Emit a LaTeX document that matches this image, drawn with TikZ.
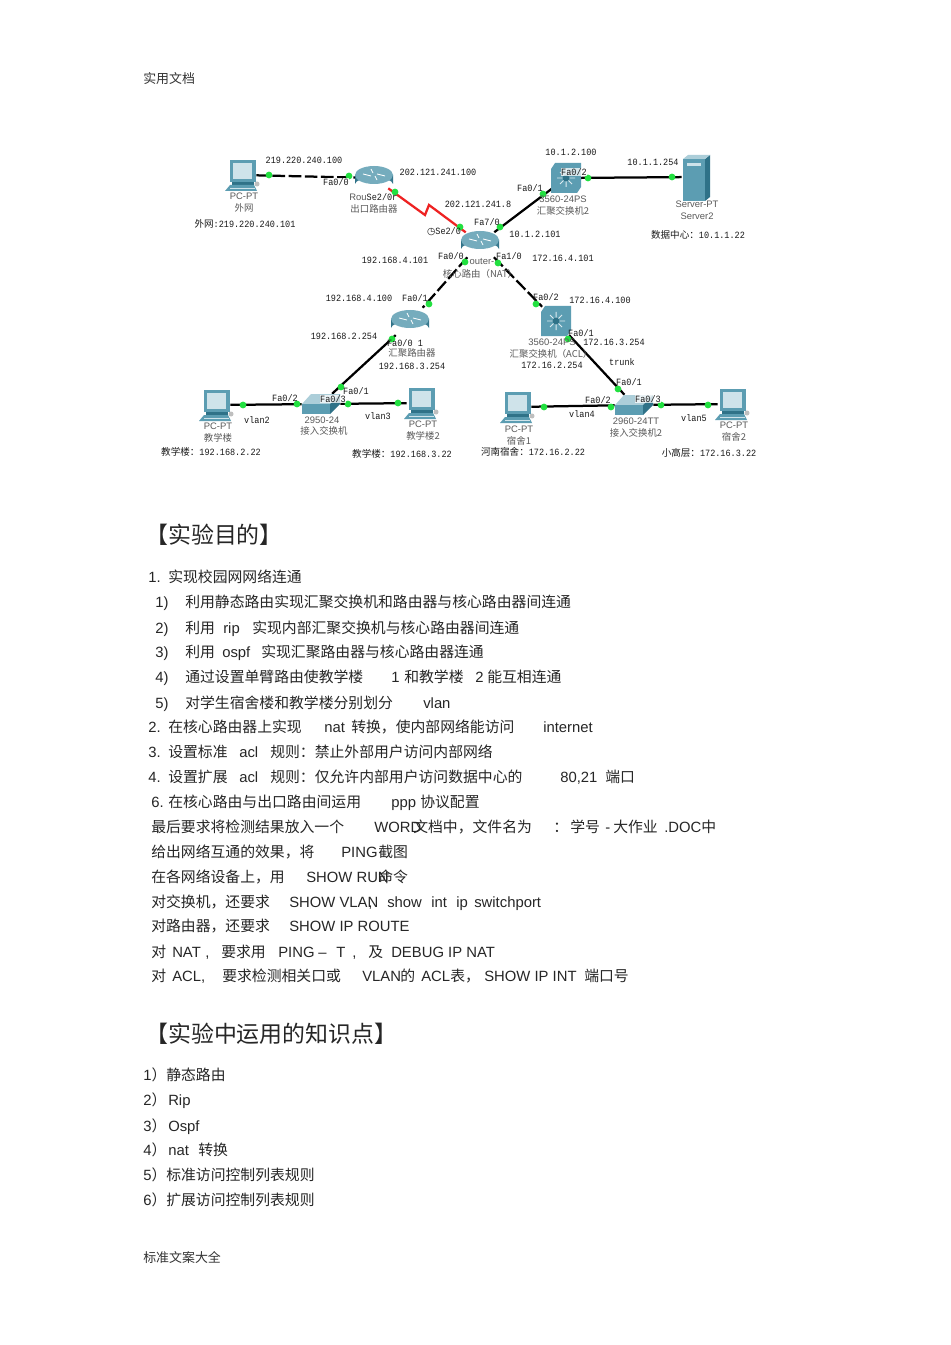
\documentclass[tikz,border=0pt]{standalone}
\usepackage{fontspec}
\setmainfont{Liberation Sans}
\newfontfamily\cjf{Noto Sans CJK SC}
\newfontfamily\labf[FakeStretch=0.89]{Liberation Mono}
\newfontfamily\symf{DejaVu Sans}
\newcommand{\cj}[1]{{\cjf #1}}
\usetikzlibrary{arrows.meta,positioning,calc}
\definecolor{portgreen}{HTML}{22E040}
\definecolor{teal1}{HTML}{5C9DB2}
\definecolor{teal2}{HTML}{2F7288}
\definecolor{teal3}{HTML}{CFE3EA}
\definecolor{devgray}{HTML}{5A5A5A}
\definecolor{linkred}{HTML}{EE2222}
\tikzset{
  dev/.style={inner sep=0pt, minimum width=7mm, minimum height=7mm},
  flat/.style={inner sep=0pt, minimum width=9.5mm, minimum height=5mm},
  port/.style={circle, fill=portgreen, minimum size=1.7mm, inner sep=0pt},
  lnk/.style={line width=1.6pt, black},
  dlnk/.style={line width=1.6pt, black, dash pattern=on 9pt off 2.5pt},
  slnk/.style={line width=1.6pt, linkred},
  lab/.style={font=\labf\fontsize{6.8}{8}\selectfont, inner sep=0pt, text=black!90},
  labw/.style={lab, fill=white, fill opacity=.75, text opacity=1, inner sep=.5pt},
  devlab/.style={font=\fontsize{6.7}{8}\selectfont, inner sep=0pt, text=devgray},
  cjlab/.style={font=\cjf\fontsize{6.7}{8}\selectfont, inner sep=0pt, text=devgray},
  txt/.style={font=\fontsize{10.55}{12}\selectfont, anchor=base west, inner sep=0pt, text=black!85},
  cjt/.style={txt, font=\cjf\fontsize{10.55}{12}\selectfont},
  small/.style={font=\cjf\fontsize{9.2}{11}\selectfont, anchor=base west, inner sep=0pt, text=black!80},
  head/.style={font=\cjf\fontsize{16.3}{20}\selectfont, anchor=base west, inner sep=0pt, text=black!85},
}
\begin{document}
\begin{tikzpicture}[x=0.025cm,y=-0.025cm]
\newcommand{\pcicon}{\fill[teal1] (-12,-15) -- (14,-15) -- (14,7) -- (-12,7) -- cycle; \fill[teal3] (-9,-12) -- (10,-12) -- (10,4) -- (-9,4) -- cycle; \fill[teal2] (-10,7) -- (12,7) -- (12,10) -- (-10,10) -- cycle; \fill[teal1] (-12,10) -- (12,10) -- (15,16) -- (-17,16) -- cycle; \draw[teal3] (-12,13) -- (13,13); \fill[gray!50] (15,9) circle (2.5);}
\newcommand{\routericon}{\path[left color=teal2, right color=teal2, middle color=teal1!45!teal3] (-19,-3) -- (-19,6) arc[start angle=180,end angle=360,x radius=19,y radius=6] -- (19,-3) -- cycle; \fill[teal1!85!white] (0,-3) ellipse [x radius=19,y radius=9]; \draw[white, line width=.6pt] (-11,-4) -- (-3,-2) (3,-4) -- (11,-2) (-3,-9) -- (-1,-5) (3,2) -- (1,-2);}
\newcommand{\mlsicon}{\fill[teal1] (-11,-15) -- (15,-15) -- (15,9) -- (11,15) -- (-15,15) -- (-15,-9) -- cycle; \draw[white!80!teal1, line width=.7pt] (-9,0) -- (9,0) (0,-9) -- (0,9) (-6,-6) -- (6,6) (-6,6) -- (6,-6); \fill[teal2] (0,0) circle (3.5);}
\newcommand{\flaticon}{\fill[teal3!70!teal1] (-10,-10) -- (19,-10) -- (9,0) -- (-19,0) -- cycle; \fill[teal1] (-19,0) -- (9,0) -- (9,10) -- (-19,10) -- cycle; \fill[teal2] (9,0) -- (19,-10) -- (19,0) -- (9,10) -- cycle;}
\newcommand{\servericon}{\fill[teal1] (-13,-18) -- (9,-18) -- (9,24) -- (-13,24) -- cycle; \fill[teal2] (9,-18) -- (14,-22) -- (14,20) -- (9,24) -- cycle; \fill[teal3!70!teal1] (-13,-18) -- (-8,-22) -- (14,-22) -- (9,-18) -- cycle; \fill[teal3] (-9,-14) rectangle (5,-11);}
\useasboundingbox (0,0) rectangle (950,1345);
\fill[white] (0,0) rectangle (950,1345);
% page header
\node[small] (hdr) at (143,84) {实用文档};
% devices
\node[dev] (extpc) at (242,175) {};
\node[dev] (ext) at (374,178) {};
\node[dev] (core) at (480,243) {};
\node[dev] (swtop) at (566,178) {};
\node[dev] (srv) at (696,177) {};
\node[dev] (agg) at (410,322) {};
\node[flat] (acc1) at (321,404) {};
\node[dev] (pc1) at (216,405) {};
\node[dev] (pc2) at (421,403) {};
\node[dev] (sw2) at (556,321) {};
\node[flat] (acc2) at (634,405) {};
\node[dev] (pc3) at (517,407) {};
\node[dev] (pc4) at (732,404) {};
\coordinate (zz1) at (425,215);
\coordinate (zz2) at (429,205);
% links
\draw[dlnk] (extpc) -- (ext);
\draw[slnk] (ext) -- (zz1) -- (zz2) -- (core);
\draw[lnk] (core) -- (swtop);
\draw[lnk] (swtop) -- (srv);
\draw[dlnk] (core) -- (agg);
\draw[lnk] (agg) -- (acc1);
\draw[lnk] (acc1) -- (pc1);
\draw[lnk] (acc1) -- (pc2);
\draw[dlnk] (core) -- (sw2);
\draw[lnk] (sw2) -- (acc2);
\draw[lnk] (acc2) -- (pc3);
\draw[lnk] (acc2) -- (pc4);
% icons
\begin{scope}[shift={(242,175)}]\pcicon\end{scope}
\begin{scope}[shift={(374,178)}]\routericon\end{scope}
\begin{scope}[shift={(480,243)}]\routericon\end{scope}
\begin{scope}[shift={(566,178)}]\mlsicon\end{scope}
\begin{scope}[shift={(696,177)}]\servericon\end{scope}
\begin{scope}[shift={(410,322)}]\routericon\end{scope}
\begin{scope}[shift={(321,404)}]\flaticon\end{scope}
\begin{scope}[shift={(216,405)}]\pcicon\end{scope}
\begin{scope}[shift={(421,403)}]\pcicon\end{scope}
\begin{scope}[shift={(556,321)}]\mlsicon\end{scope}
\begin{scope}[shift={(634,405)}]\flaticon\end{scope}
\begin{scope}[shift={(517,407)}]\pcicon\end{scope}
\begin{scope}[shift={(732,404)}]\pcicon\end{scope}
% ports
\node[port] (p1) at (269,175) {};
\node[port] (p2) at (349,176) {};
\node[port] (p3) at (395,192) {};
\node[port] (p4) at (460,227) {};
\node[port] (p5) at (465,262) {};
\node[port] (p6) at (498,263) {};
\node[port] (p7) at (500,227) {};
\node[port] (p8) at (543,194) {};
\node[port] (p9) at (588,178) {};
\node[port] (p10) at (672,177) {};
\node[port] (p11) at (429,304) {};
\node[port] (p12) at (392,339) {};
\node[port] (p13) at (341,387) {};
\node[port] (p14) at (297,404) {};
\node[port] (p15) at (348,404) {};
\node[port] (p16) at (243,405) {};
\node[port] (p17) at (398,403) {};
\node[port] (p18) at (536,304) {};
\node[port] (p19) at (568,339) {};
\node[port] (p20) at (618,389) {};
\node[port] (p21) at (611,407) {};
\node[port] (p22) at (661,405) {};
\node[port] (p23) at (544,407) {};
\node[port] (p24) at (708,405) {};
% upper labels
\node[lab] (a1) at (304,160) {219.220.240.100};
\node[labw] (a2) at (336,182) {Fa0/0};
\node[devlab] (a3) at (244,196) {PC-PT};
\node[cjlab] (a4) at (244,208) {外网};
\node[lab] (a5) at (245,224) {\cj{外网}:219.220.240.101};
\node[devlab] (a6) at (358,197) {Rou};
\node[lab] (a7) at (382,197) {Se2/0r};
\node[cjlab] (a8) at (374,209) {出口路由器};
\node[lab] (a9) at (438,172) {202.121.241.100};
\node[lab] (a10) at (478,204) {202.121.241.8};
\node[lab] (a11) at (444,232) {{\symf ◷}Se2/0};
\node[lab] (a12) at (487,222) {Fa7/0};
\node[lab] (a13) at (535,234) {10.1.2.101};
\node[lab] (a14) at (509,256) {Fa1/0};
\node[lab] (a15) at (563,258) {172.16.4.101};
\node[lab] (a16) at (451,256) {Fa0/0};
\node[lab] (a17) at (395,260) {192.168.4.101};
\node[devlab] (a18) at (482,262) {outer-};
\node[cjlab] (a19) at (480,274) {核心路由（NAT）};
\node[lab] (a20) at (571,152) {10.1.2.100};
\node[labw] (a21) at (574,172) {Fa0/2};
\node[lab] (a22) at (530,188) {Fa0/1};
\node[devlab] (a23) at (563,199) {3560-24PS};
\node[cjlab] (a24) at (563,211) {汇聚交换机2};
\node[lab] (a25) at (653,162) {10.1.1.254};
\node[devlab] (a26) at (697,204) {Server-PT};
\node[devlab] (a27) at (697,216) {Server2};
\node[lab] (a28) at (698,235) {\cj{数据中心：}10.1.1.22};
% lower left labels
\node[lab] (b1) at (359,298) {192.168.4.100};
\node[lab] (b2) at (415,298) {Fa0/1};
\node[lab] (b3) at (344,336) {192.168.2.254};
\node[lab] (b4) at (405,343) {Fa0/0 1};
\node[cjlab] (b5) at (412,353) {汇聚路由器};
\node[lab] (b6) at (412,366) {192.168.3.254};
\node[lab] (b7) at (356,391) {Fa0/1};
\node[lab] (b8) at (285,398) {Fa0/2};
\node[labw] (b9) at (333,399) {Fa0/3};
\node[lab] (b10) at (257,420) {vlan2};
\node[lab] (b11) at (378,416) {vlan3};
\node[devlab] (b12) at (322,420) {2950-24};
\node[cjlab] (b13) at (324,431) {接入交换机};
\node[devlab] (b14) at (218,426) {PC-PT};
\node[cjlab] (b15) at (218,438) {教学楼};
\node[lab] (b16) at (211,452) {\cj{教学楼：}192.168.2.22};
\node[devlab] (b17) at (423,424) {PC-PT};
\node[cjlab] (b18) at (423,436) {教学楼2};
\node[lab] (b19) at (402,454) {\cj{教学楼：}192.168.3.22};
% lower right labels
\node[lab] (c1) at (546,297) {Fa0/2};
\node[lab] (c2) at (600,300) {172.16.4.100};
\node[lab] (c3) at (581,333) {Fa0/1};
\node[devlab] (c4) at (552,342) {3560-24PS};
\node[lab] (c5) at (614,342) {172.16.3.254};
\node[cjlab] (c6) at (551,354) {汇聚交换机（ACL）};
\node[lab] (c7) at (552,365) {172.16.2.254};
\node[lab] (c8) at (622,362) {trunk};
\node[lab] (c9) at (629,382) {Fa0/1};
\node[lab] (c10) at (598,400) {Fa0/2};
\node[labw] (c11) at (648,399) {Fa0/3};
\node[lab] (c12) at (582,414) {vlan4};
\node[lab] (c13) at (694,418) {vlan5};
\node[devlab] (c14) at (636,421) {2960-24TT};
\node[cjlab] (c15) at (636,433) {接入交换机2};
\node[devlab] (c16) at (519,429) {PC-PT};
\node[cjlab] (c17) at (519,441) {宿舍1};
\node[lab] (c18) at (533,452) {\cj{河南宿舍：}172.16.2.22};
\node[devlab] (c19) at (734,425) {PC-PT};
\node[cjlab] (c20) at (734,437) {宿舍2};
\node[lab] (c21) at (709,453) {\cj{小高层：}172.16.3.22};
% first section
\node[head] (h1) at (145,543) {【实验目的】};
\node[txt] (l1a) at (148,582) {1.};
\node[cjt] (l1b) at (168,582) {实现校园网网络连通};
\node[txt] (l2a) at (155,607) {1)};
\node[cjt] (l2b) at (185,607) {利用静态路由实现汇聚交换机和路由器与核心路由器间连通};
\node[txt] (l3a) at (155,633) {2)};
\node[cjt] (l3b) at (185,633) {利用};
\node[txt] (l3c) at (223,633) {rip};
\node[cjt] (l3d) at (252,633) {实现内部汇聚交换机与核心路由器间连通};
\node[txt] (l4a) at (155,657) {3)};
\node[cjt] (l4b) at (185,657) {利用};
\node[txt] (l4c) at (222,657) {ospf};
\node[cjt] (l4d) at (261,657) {实现汇聚路由器与核心路由器连通};
\node[txt] (l5a) at (155,682) {4)};
\node[cjt] (l5b) at (185,682) {通过设置单臂路由使教学楼};
\node[txt] (l5c) at (391,682) {1};
\node[cjt] (l5d) at (404,682) {和教学楼};
\node[txt] (l5e) at (475,682) {2};
\node[cjt] (l5f) at (487,682) {能互相连通};
\node[txt] (l6a) at (155,708) {5)};
\node[cjt] (l6b) at (185,708) {对学生宿舍楼和教学楼分别划分};
\node[txt] (l6c) at (423,708) {vlan};
\node[txt] (l7a) at (148,732) {2.};
\node[cjt] (l7b) at (168,732) {在核心路由器上实现};
\node[txt] (l7c) at (324,732) {nat};
\node[cjt] (l7d) at (351,732) {转换，使内部网络能访问};
\node[txt] (l7e) at (543,732) {internet};
\node[txt] (l8a) at (148,757) {3.};
\node[cjt] (l8b) at (168,757) {设置标准};
\node[txt] (l8c) at (239,757) {acl};
\node[cjt] (l8d) at (270,757) {规则：禁止外部用户访问内部网络};
\node[txt] (l9a) at (148,782) {4.};
\node[cjt] (l9b) at (168,782) {设置扩展};
\node[txt] (l9c) at (239,782) {acl};
\node[cjt] (l9d) at (270,782) {规则：仅允许内部用户访问数据中心的};
\node[txt] (l9e) at (560,782) {80,21};
\node[cjt] (l9f) at (605,782) {端口};
\node[txt] (l10a) at (151,807) {6.};
\node[cjt] (l10b) at (168,807) {在核心路由与出口路由间运用};
\node[txt] (l10c) at (391,807) {ppp};
\node[cjt] (l10d) at (420,807) {协议配置};
\node[cjt] (l11a) at (151,832) {最后要求将检测结果放入一个};
\node[txt] (l11b) at (374,832) {WORD};
\node[cjt] (l11c) at (413,832) {文档中，文件名为};
\node[cjt] (l11d) at (553,832) {：};
\node[cjt] (l11e) at (570,832) {学号};
\node[txt] (l11f) at (605,832) {-};
\node[cjt] (l11g) at (613,832) {大作业};
\node[txt] (l11h) at (664,832) {.DOC};
\node[cjt] (l11i) at (701,832) {中};
\node[cjt] (l12a) at (151,857) {给出网络互通的效果，将};
\node[txt] (l12b) at (341,857) {PING};
\node[cjt] (l12c) at (378,857) {截图};
\node[cjt] (l13a) at (151,882) {在各网络设备上，用};
\node[txt] (l13b) at (306,882) {SHOW RUN};
\node[cjt] (l13c) at (378,882) {命令};
\node[cjt] (l14a) at (151,907) {对交换机，还要求};
\node[txt] (l14b) at (289,907) {SHOW VLAN};
\node[txt] (l14g) at (368,907) {,};
\node[txt] (l14c) at (387,907) {show};
\node[txt] (l14d) at (431,907) {int};
\node[txt] (l14e) at (456,907) {ip};
\node[txt] (l14f) at (474,907) {switchport};
\node[cjt] (l15a) at (151,931) {对路由器，还要求};
\node[txt] (l15b) at (289,931) {SHOW IP ROUTE};
\node[cjt] (l16a) at (151,957) {对};
\node[txt] (l16b) at (172,957) {NAT};
\node[txt] (l16c) at (205,957) {,};
\node[cjt] (l16d) at (221,957) {要求用};
\node[txt] (l16e) at (278,957) {PING};
\node[txt] (l16f) at (318,957) {–};
\node[txt] (l16g) at (336,957) {T};
\node[txt] (l16h) at (352,957) {,};
\node[cjt] (l16i) at (368,957) {及};
\node[txt] (l16j) at (391,957) {DEBUG IP NAT};
\node[cjt] (l17a) at (151,981) {对};
\node[txt] (l17b) at (172,981) {ACL,};
\node[cjt] (l17c) at (222,981) {要求检测相关口或};
\node[txt] (l17d) at (362,981) {VLAN};
\node[cjt] (l17e) at (400,981) {的};
\node[txt] (l17f) at (421,981) {ACL};
\node[cjt] (l17g) at (450,981) {表，};
\node[txt] (l17h) at (484,981) {SHOW IP INT};
\node[cjt] (l17i) at (584,981) {端口号};
% second section
\node[head] (h2) at (145,1042) {【实验中运用的知识点】};
\node[txt] (k1a) at (143,1080) {1\cj{）}};
\node[cjt] (k1b) at (166,1080) {静态路由};
\node[txt] (k2a) at (143,1105) {2\cj{）}};
\node[txt] (k2b) at (168,1105) {Rip};
\node[txt] (k3a) at (143,1131) {3\cj{）}};
\node[txt] (k3b) at (168,1131) {Ospf};
\node[txt] (k4a) at (143,1155) {4\cj{）}};
\node[txt] (k4b) at (168,1155) {nat};
\node[cjt] (k4c) at (198,1155) {转换};
\node[txt] (k5a) at (143,1180) {5\cj{）}};
\node[cjt] (k5b) at (166,1180) {标准访问控制列表规则};
\node[txt] (k6a) at (143,1205) {6\cj{）}};
\node[cjt] (k6b) at (166,1205) {扩展访问控制列表规则};
% page footer
\node[small] (ftr) at (143,1262) {标准文案大全};
\end{tikzpicture}
\end{document}
